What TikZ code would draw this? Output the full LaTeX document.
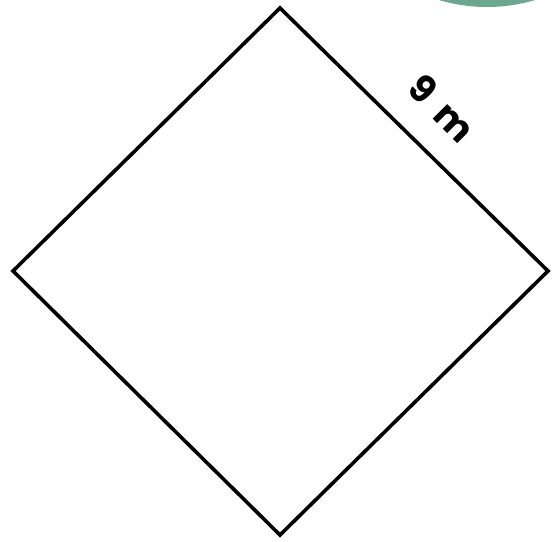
\documentclass[tikz,border=0pt]{standalone}
\usepackage{fontspec}
\setmainfont{Poppins}
\definecolor{pondgreen}{RGB}{107,168,143}
\begin{document}
\begin{tikzpicture}[x=1pt,y=1pt]
\useasboundingbox (0,0) rectangle (556,541);
\clip (0,0) rectangle (556,541);
\fill [pondgreen] (487,702) circle (168);

\coordinate (top) at (280,533);
\coordinate (left) at (13,270);
\coordinate (bottom) at (280,6);
\coordinate (right) at (548,270);
\draw [line width=3.6, line join=miter] (top) -- (right) -- (bottom) -- (left) -- cycle;

\node [rotate=-45, font=\fontsize{37}{37}\selectfont\bfseries] (side) at (442,433) {9\hspace{0.4em}m};
\end{tikzpicture}
\end{document}
